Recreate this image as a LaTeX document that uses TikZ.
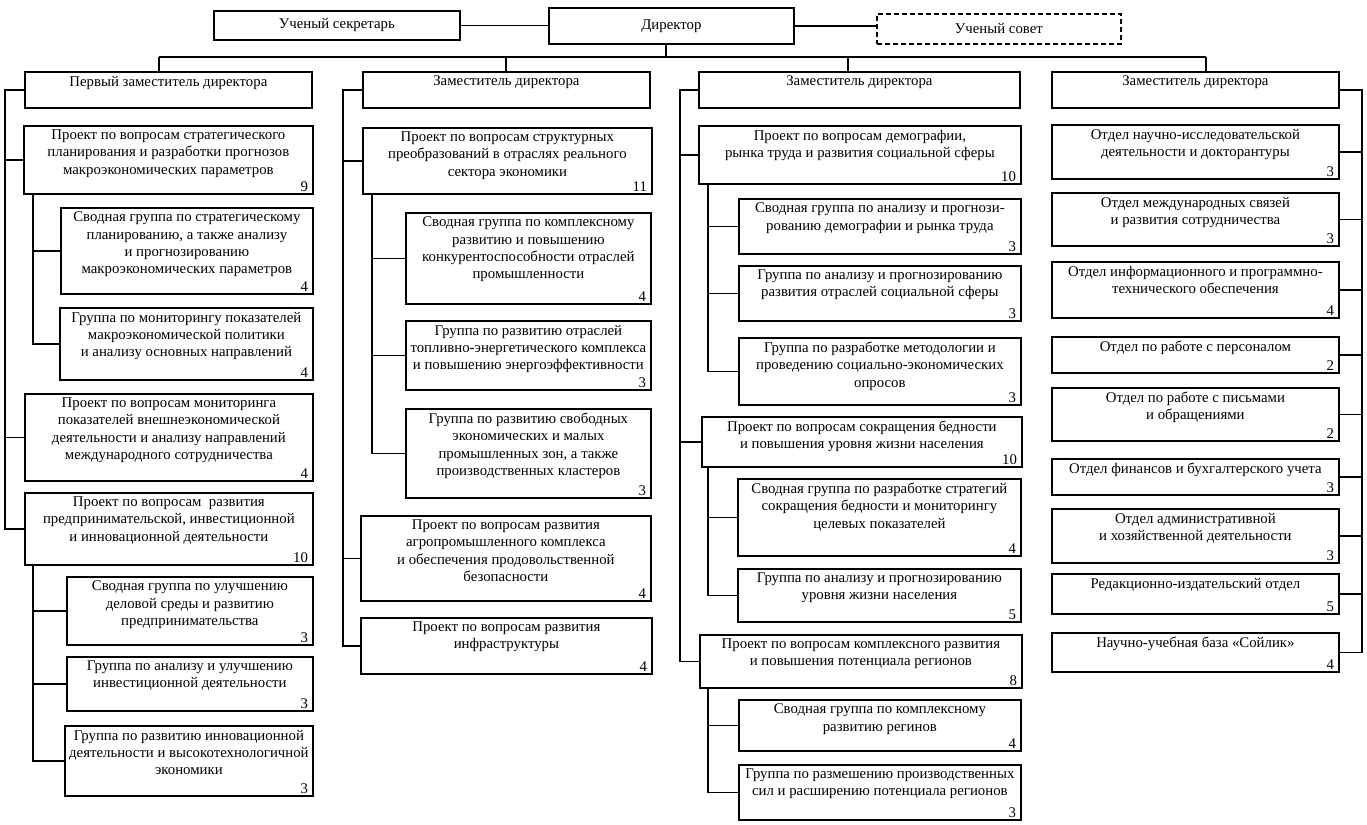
\documentclass[tikz,border=0pt]{standalone}
\usepackage{fontspec}
\setmainfont{Liberation Serif}

\begin{document}
\begin{tikzpicture}
[x=0.5pt,y=-0.5pt,line width=0.9pt,
 font=\fontsize{7.4}{8.7}\selectfont,
 unit/.style={draw,anchor=north west,inner sep=0pt},
 wd/.style={minimum width=#1*0.5pt},
 ht/.style={minimum height=#1*0.5pt},
 ttl/.style={anchor=north,align=center,inner sep=2pt},
 num/.style={anchor=south east,inner xsep=2.5pt,inner ysep=1.2pt}]
\path[fill=white,use as bounding box] (0,0) rectangle (1367,825);

% top row
\node[unit,wd=246,ht=29] (sec) at (213,10) {Ученый секретарь};
\node[unit,wd=245,ht=36] (dir) at (548,7) {Директор};
\node[unit,wd=244,ht=30,dashed,dash pattern=on 2.5pt off 1.5pt] (sov) at (876,13) {Ученый совет};

% deputies
\node[unit,wd=287,ht=36,label={[ttl]north:Первый заместитель директора}] (dep1) at (24,71) {};
\node[unit,wd=287,ht=36,label={[ttl]north:Заместитель директора}] (dep2) at (362,71) {};
\node[unit,wd=321,ht=36,label={[ttl]north:Заместитель директора}] (dep3) at (698,71) {};
\node[unit,wd=287,ht=36,label={[ttl]north:Заместитель директора}] (dep4) at (1051,71) {};

% column 1
\node[unit,wd=289,ht=68,label={[ttl]north:{Проект по вопросам стратегического\\планирования и разработки прогнозов\\макроэкономических параметров}},label={[num]south east:9}] (p11) at (23,125) {};
\node[unit,wd=252,ht=86,label={[ttl]north:{Сводная группа по стратегическому\\планированию, а также анализу\\и прогнозированию\\макроэкономических параметров}},label={[num]south east:4}] (g11) at (60,207) {};
\node[unit,wd=253,ht=72,label={[ttl]north:{Группа по мониторингу показателей\\макроэкономической политики\\и анализу основных направлений}},label={[num]south east:4}] (g12) at (59,307) {};
\node[unit,wd=288,ht=87,label={[ttl]north:{Проект по вопросам мониторинга\\показателей внешнеэкономической\\деятельности и анализу направлений\\международного сотрудничества}},label={[num]south east:4}] (p12) at (24,393) {};
\node[unit,wd=288,ht=72,label={[ttl]north:{Проект по вопросам~ развития\\предпринимательской, инвестиционной\\и инновационной деятельности}},label={[num]south east:10}] (p13) at (24,492) {};
\node[unit,wd=246,ht=68,label={[ttl]north:{Сводная группа по улучшению\\деловой среды и развитию\\предпринимательства}},label={[num]south east:3}] (g13) at (66,576) {};
\node[unit,wd=246,ht=54,label={[ttl]north:{Группа по анализу и улучшению\\инвестиционной деятельности}},label={[num]south east:3}] (g14) at (66,656) {};
\node[unit,wd=248,ht=70,label={[ttl]north:{Группа по развитию инновационной\\деятельности и высокотехнологичной\\экономики}},label={[num]south east:3}] (g15) at (64,725) {};

% column 2
\node[unit,wd=289,ht=66,label={[ttl]north:{Проект по вопросам структурных\\преобразований в отраслях реального\\сектора экономики}},label={[num]south east:11}] (p21) at (362,127) {};
\node[unit,wd=245,ht=91,label={[ttl]north:{Сводная группа по комплексному\\развитию и повышению\\конкурентоспособности отраслей\\промышленности}},label={[num]south east:4}] (g21) at (405,212) {};
\node[unit,wd=245,ht=69,label={[ttl]north:{Группа по развитию отраслей\\топливно-энергетического комплекса\\и повышению энергоэффективности}},label={[num]south east:3}] (g22) at (405,320) {};
\node[unit,wd=245,ht=89,label={[ttl]north:{Группа по развитию свободных\\экономических и малых\\промышленных зон, а также\\производственных кластеров}},label={[num]south east:3}] (g23) at (405,408) {};
\node[unit,wd=290,ht=85,label={[ttl]north:{Проект по вопросам развития\\агропромышленного комплекса\\и обеспечения продовольственной\\безопасности}},label={[num]south east:4}] (p22) at (360,515) {};
\node[unit,wd=291,ht=56,label={[ttl]north:{Проект по вопросам развития\\инфраструктуры}},label={[num]south east:4}] (p23) at (360,617) {};

% column 3
\node[unit,wd=322,ht=58,label={[ttl]north:{Проект по вопросам демографии,\\рынка труда и развития социальной сферы}},label={[num]south east:10}] (p31) at (698,125) {};
\node[unit,wd=282,ht=55,label={[ttl]north:{Сводная группа по анализу и прогнози-\\рованию демографии и рынка труда}},label={[num]south east:3}] (g31) at (738,198) {};
\node[unit,wd=282,ht=55,label={[ttl]north:{Группа по анализу и прогнозированию\\развития отраслей социальной сферы}},label={[num]south east:3}] (g32) at (738,265) {};
\node[unit,wd=282,ht=67,label={[ttl]north:{Группа по разработке методологии и\\проведению социально-экономических\\опросов}},label={[num]south east:3}] (g33) at (738,337) {};
\node[unit,wd=320,ht=50,label={[ttl]north:{Проект по вопросам сокращения бедности\\и повышения уровня жизни населения}},label={[num]south east:10}] (p32) at (701,416) {};
\node[unit,wd=283,ht=77,label={[ttl]north:{Сводная группа по разработке стратегий\\сокращения бедности и мониторингу\\целевых показателей}},label={[num]south east:4}] (g34) at (737,478) {};
\node[unit,wd=283,ht=53,label={[ttl]north:{Группа по анализу и прогнозированию\\уровня жизни населения}},label={[num]south east:5}] (g35) at (737,568) {};
\node[unit,wd=322,ht=53,label={[ttl]north:{Проект по вопросам комплексного развития\\и повышения потенциала регионов}},label={[num]south east:8}] (p33) at (699,634) {};
\node[unit,wd=282,ht=51,label={[ttl]north:{Сводная группа по комплексному\\развитию регинов}},label={[num]south east:4}] (g36) at (738,699) {};
\node[unit,wd=282,ht=55,label={[ttl]north:{Группа по размешению производственных\\сил и расширению потенциала регионов}},label={[num]south east:3}] (g37) at (738,764) {};

% column 4
\node[unit,wd=287,ht=54,label={[ttl]north:{Отдел научно-исследовательской\\деятельности и докторантуры}},label={[num]south east:3}] (d1) at (1051,124) {};
\node[unit,wd=287,ht=53,label={[ttl]north:{Отдел международных связей\\и развития сотрудничества}},label={[num]south east:3}] (d2) at (1051,192) {};
\node[unit,wd=287,ht=56,label={[ttl]north:{Отдел информационного и программно-\\технического обеспечения}},label={[num]south east:4}] (d3) at (1051,261) {};
\node[unit,wd=287,ht=36,label={[ttl]north:Отдел по работе с персоналом},label={[num]south east:2}] (d4) at (1051,336) {};
\node[unit,wd=287,ht=53,label={[ttl]north:{Отдел по работе с письмами\\и обращениями}},label={[num]south east:2}] (d5) at (1051,387) {};
\node[unit,wd=287,ht=36,label={[ttl]north:Отдел финансов и бухгалтерского учета},label={[num]south east:3}] (d6) at (1051,458) {};
\node[unit,wd=287,ht=54,label={[ttl]north:{Отдел административной\\и хозяйственной деятельности}},label={[num]south east:3}] (d7) at (1051,508) {};
\node[unit,wd=287,ht=40,label={[ttl]north:Редакционно-издательский отдел},label={[num]south east:5}] (d8) at (1051,573) {};
\node[unit,wd=287,ht=39,label={[ttl]north:Научно-учебная база «Сойлик»},label={[num]south east:4}] (d9) at (1051,632) {};

% lines
\draw (sec.east) -- (sec.east -| dir.west);
\draw (dir.east) -- (dir.east -| sov.west);
\coordinate (t0) at (666,57);
\coordinate (t1) at (159,57);
\coordinate (t2) at (506,57);
\coordinate (t3) at (848,57);
\coordinate (t4) at (1206,57);
\draw (t1) -- (t4);
\draw (t0) -- (t0 |- dir.south);
\foreach \from/\to in {t1/dep1,t2/dep2,t3/dep3,t4/dep4}
\draw (\from) -- (\from |- \to.north);

\coordinate (m1) at (5,0);
\coordinate (m2) at (343,0);
\coordinate (m3) at (680,0);
\coordinate (m4) at (1362,0);
\coordinate (s1) at (33,0);
\coordinate (s2) at (372,0);
\coordinate (s3) at (708,0);
\foreach \sp/\from/\to in {m1/dep1/p13,m2/dep2/p23,m3/dep3/p33}
\draw (\from.west) -| (\sp |- \to.west) -- (\to.west);
\foreach \sp/\to in {m1/p11,m1/p12,m2/p21,m2/p22,m3/p31,m3/p32}
\draw (\sp |- \to.west) -- (\to.west);
\draw (dep4.east) -| (m4 |- d9.east) -- (d9.east);
\foreach \to in {d1,d2,d3,d4,d5,d6,d7,d8}
\draw (m4 |- \to.east) -- (\to.east);
\foreach \sp/\from/\to in {s1/p11/g12,s1/p13/g15,s2/p21/g23,s3/p31/g33,s3/p32/g35,s3/p33/g37}
\draw (\sp |- \from.south) |- (\to.west);
\foreach \sp/\to in {s1/g11,s1/g13,s1/g14,s2/g21,s2/g22,s3/g31,s3/g32,s3/g34,s3/g36}
\draw (\sp |- \to.west) -- (\to.west);
\end{tikzpicture}
\end{document}
